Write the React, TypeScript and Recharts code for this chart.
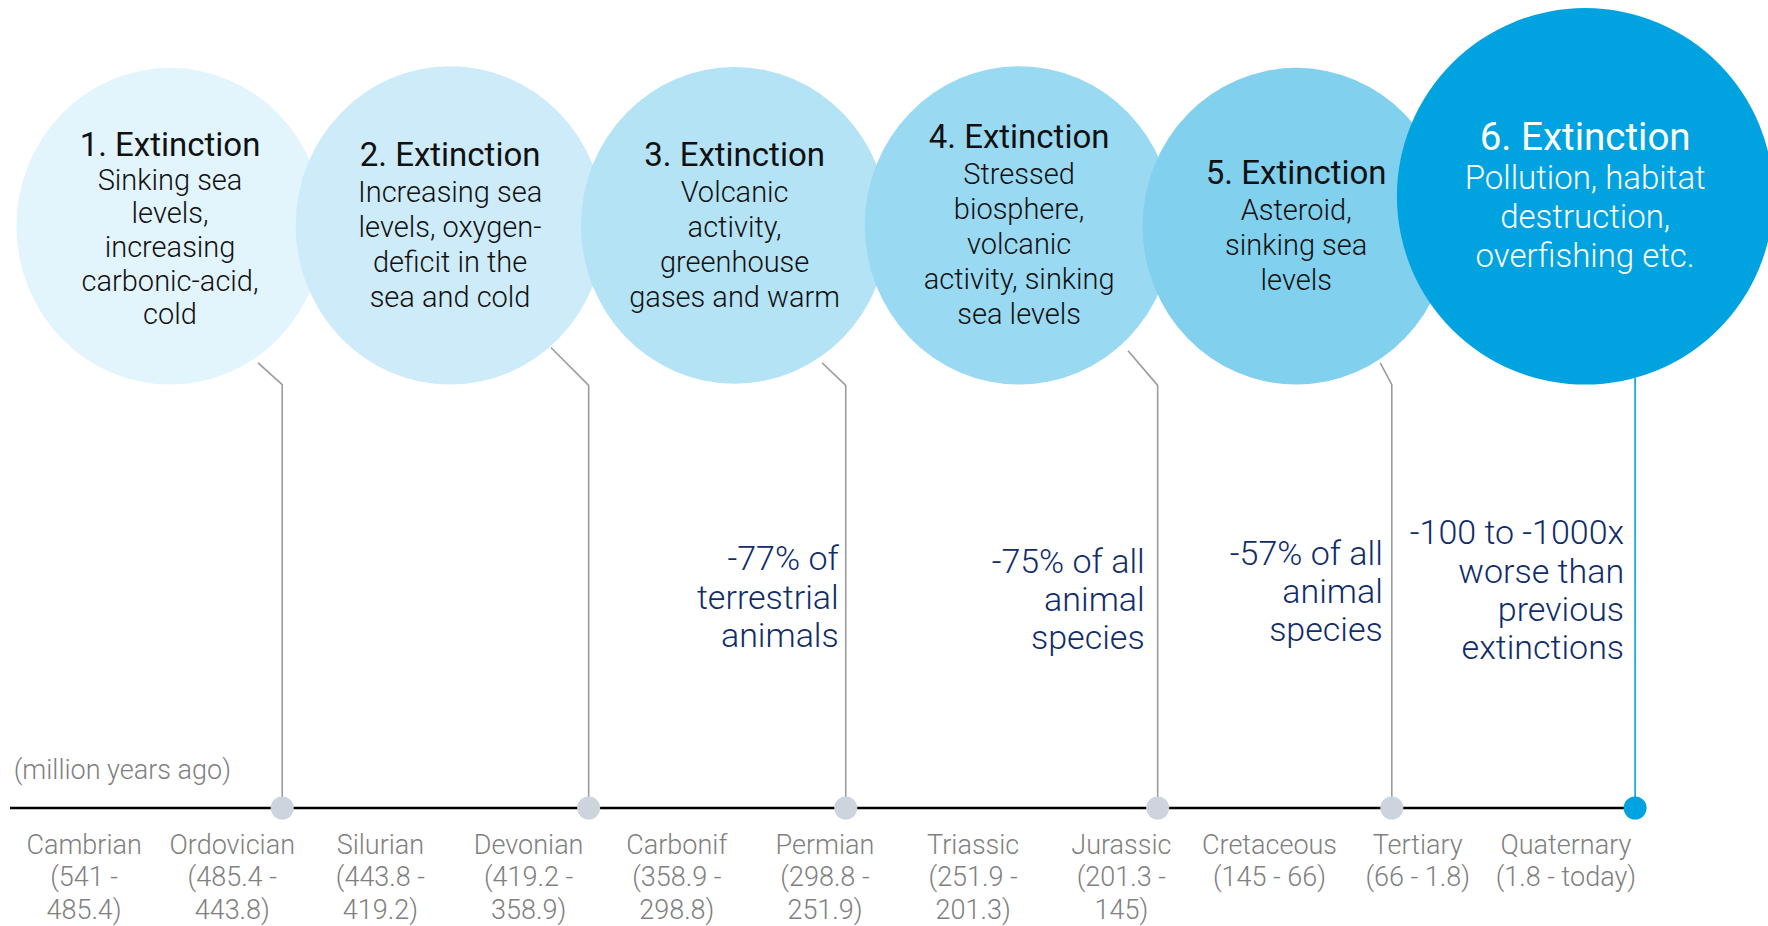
import React from 'react';
import { ComposedChart, XAxis, YAxis, Scatter } from 'recharts';

// ---------- layout constants ----------
const CHART_W = 1768;
const CHART_H = 926;
const MARGIN = { top: 0, right: 128, bottom: 0, left: 10 };
const AXIS_H = 118;
const X_MAX = 11;
const Y_MAX = 100;
const PLOT_H = CHART_H - AXIS_H - MARGIN.top;
const PX_PER_Y = PLOT_H / Y_MAX;
const FONT = 'Roboto, "Noto Sans", sans-serif';

// ---------- data ----------
const periodNames = [
  'Cambrian', 'Ordovician', 'Silurian', 'Devonian', 'Carbonif', 'Permian',
  'Triassic', 'Jurassic', 'Cretaceous', 'Tertiary', 'Quaternary',
];
const periodRangeLines = [
  ['(541 -', '485.4)'],
  ['(485.4 -', '443.8)'],
  ['(443.8 -', '419.2)'],
  ['(419.2 -', '358.9)'],
  ['(358.9 -', '298.8)'],
  ['(298.8 -', '251.9)'],
  ['(251.9 -', '201.3)'],
  ['(201.3 -', '145)'],
  ['(145 - 66)'],
  ['(66 - 1.8)'],
  ['(1.8 - today)'],
];
const periodTicks = periodNames.map((_, i) => i + 0.5);

const extinctionTitles = [
  '1. Extinction', '2. Extinction', '3. Extinction',
  '4. Extinction', '5. Extinction', '6. Extinction',
];
const extinctionCauses = [
  ['Sinking sea', 'levels,', 'increasing', 'carbonic-acid,', 'cold'],
  ['Increasing sea', 'levels, oxygen-', 'deficit in the', 'sea and cold'],
  ['Volcanic', 'activity,', 'greenhouse', 'gases and warm'],
  ['Stressed', 'biosphere,', 'volcanic', 'activity, sinking', 'sea levels'],
  ['Asteroid,', 'sinking sea', 'levels'],
  ['Pollution, habitat', 'destruction,', 'overfishing etc.'],
];
// bubble centre (timeline units / height units) and radius (height units)
const bubbleX = [1.08, 2.97, 4.89, 6.81, 8.68, 10.63];
const bubbleY = [72.0, 72.1, 72.1, 72.1, 72.0, 75.7];
const bubbleR = [19.6, 19.7, 19.6, 19.7, 19.6, 23.3];

// extinction events on the timeline
const eventX = [1.837, 3.905, 5.64, 7.745, 9.325, 10.967];
const connectorStartX = [1.674, 3.650, 5.480, 7.545, 9.247, 10.967];
const connectorStartY = [55.1, 57.0, 55.1, 56.6, 55.1, 53.3];
const connectorElbowY = [52.4, 52.3, 52.3, 52.3, 52.4, 53.3];

const impactTexts = [
  [],
  [],
  ['-77% of', 'terrestrial', 'animals'],
  ['-75% of all', 'animal', 'species'],
  ['-57% of all', 'animal', 'species'],
  ['-100 to -1000x', 'worse than', 'previous', 'extinctions'],
];
const impactY = [0, 0, 30.9, 30.6, 31.6, 34.1];

const axisNote = '(million years ago)';
const axisNoteX = 0.025;
const axisNoteY = 4.7;

// ---------- styles ----------
const BUBBLE_FILLS = ['#E2F4FC', '#CDEBF8', '#B4E3F6', '#99D9F1', '#81D0EE', '#00A3E0'];
const BUBBLE_ASPECT = [0.97, 0.97, 0.97, 0.97, 0.97, 1.0];
const TITLE_GAP = [35.5, 37.5, 37.5, 37.5, 37.5, 41];
const LINE_SPACING = [33.6, 35, 35, 35, 35, 39];
const DOT_FILLS = ['#CDD4DE', '#CDD4DE', '#CDD4DE', '#CDD4DE', '#CDD4DE', '#00A3E0'];
const CONNECTOR_COLORS = ['#9B9B9B', '#9B9B9B', '#9B9B9B', '#9B9B9B', '#9B9B9B', '#00A3E0'];
const IMPACT_GAP = [7, 7, 7, 13, 9, 11];
const IMPACT_COLOR = '#102C6A';
const GREY_TEXT = '#808080';

// ---------- derived series ----------
const bubbleData = extinctionTitles.map((title, i) => ({
  x: bubbleX[i],
  y: bubbleY[i],
  r: bubbleR[i],
  title,
  causes: extinctionCauses[i],
  i,
}));
const eventData = eventX.map((x, i) => ({ x, y: 0, i }));
const impactData = eventX
  .map((x, i) => ({ x, y: impactY[i], lines: impactTexts[i], i }))
  .filter((d) => d.lines.length > 0);
const connectorData = eventX.map((x, i) => [
  { x: connectorStartX[i], y: connectorStartY[i] },
  { x, y: connectorElbowY[i] },
  { x, y: 0 },
]);
const noteData = [{ x: axisNoteX, y: axisNoteY, label: axisNote }];

// ---------- shapes ----------
const Bubble = (props: any) => {
  const { cx, cy, payload } = props;
  const i = payload.i;
  const big = i === 5;
  const ry = payload.r * PX_PER_Y;
  const rx = ry * BUBBLE_ASPECT[i];
  const titleSize = big ? 38.5 : 33;
  const bodySize = big ? 33 : 29;
  const gap = TITLE_GAP[i];
  const spacing = LINE_SPACING[i];
  const lines: string[] = payload.causes;
  const H = gap + (lines.length - 1) * spacing;
  const top = cy - H / 2 + (i === 0 ? 3 : 0);
  const color = big ? '#FFFFFF' : '#111111';
  return (
    <g>
      <ellipse cx={cx} cy={cy} rx={rx} ry={ry} fill={BUBBLE_FILLS[i]} />
      <text x={cx} y={top} textAnchor="middle" dominantBaseline="central"
        fontSize={titleSize} fontWeight={400} fill={color} fontFamily={FONT}>
        {payload.title}
      </text>
      {lines.map((l, k) => (
        <text key={k} x={cx} y={top + gap + k * spacing} textAnchor="middle"
          dominantBaseline="central" fontSize={bodySize} fontWeight={300}
          fill={color} fontFamily={FONT}>
          {l}
        </text>
      ))}
    </g>
  );
};

const EventDot = (props: any) => {
  const { cx, cy, payload } = props;
  return <circle cx={cx} cy={cy} r={11.5} fill={DOT_FILLS[payload.i]} />;
};

const ImpactText = (props: any) => {
  const { cx, cy, payload } = props;
  return (
    <g>
      {payload.lines.map((l: string, k: number) => (
        <text key={k} x={cx - IMPACT_GAP[payload.i]} y={cy + k * 38.3} textAnchor="end"
          dominantBaseline="central" fontSize={34} fontWeight={300}
          fill={IMPACT_COLOR} fontFamily={FONT}>
          {l}
        </text>
      ))}
    </g>
  );
};

const NoteText = (props: any) => {
  const { cx, cy, payload } = props;
  return (
    <text x={cx} y={cy} textAnchor="start" dominantBaseline="central"
      fontSize={27} fontWeight={300} fill={GREY_TEXT} fontFamily={FONT}>
      {payload.label}
    </text>
  );
};

const Empty = () => <g />;

const PeriodTick = (props: any) => {
  const { x, y, payload } = props;
  const idx = Math.floor(payload.value);
  const lines = [periodNames[idx], ...periodRangeLines[idx]];
  return (
    <g>
      {lines.map((l, k) => (
        <text key={k} x={x} y={y + 36.5 + k * 32.5} textAnchor="middle"
          dominantBaseline="central" fontSize={27} fontWeight={300} fill={GREY_TEXT}
          fontFamily={FONT}>
          {l}
        </text>
      ))}
    </g>
  );
};

export default function App() {
  return (
    <div style={{ position: 'absolute', left: 0, top: 0, width: CHART_W, height: CHART_H, background: '#fff', overflow: 'hidden' }}>
      <ComposedChart width={CHART_W} height={CHART_H} margin={MARGIN} style={{ overflow: 'visible' }}>
        <XAxis type="number" dataKey="x" domain={[0, X_MAX]} ticks={periodTicks}
          interval={0} height={AXIS_H} tickLine={false} tickSize={0} tickMargin={0}
          axisLine={{ stroke: '#000', strokeWidth: 2.5 }} tick={<PeriodTick />} />
        <YAxis type="number" dataKey="y" domain={[0, Y_MAX]} hide />
        {connectorData.map((pts, i) => (
          <Scatter key={`c${i}`} data={pts} line={{ stroke: CONNECTOR_COLORS[i], strokeWidth: 1.6 }}
            lineType="joint" shape={<Empty />} isAnimationActive={false} legendType="none" />
        ))}
        <Scatter data={bubbleData} shape={<Bubble />} isAnimationActive={false} legendType="none" />
        <Scatter data={eventData} shape={<EventDot />} isAnimationActive={false} legendType="none" />
        <Scatter data={impactData} shape={<ImpactText />} isAnimationActive={false} legendType="none" />
        <Scatter data={noteData} shape={<NoteText />} isAnimationActive={false} legendType="none" />
      </ComposedChart>
    </div>
  );
}
